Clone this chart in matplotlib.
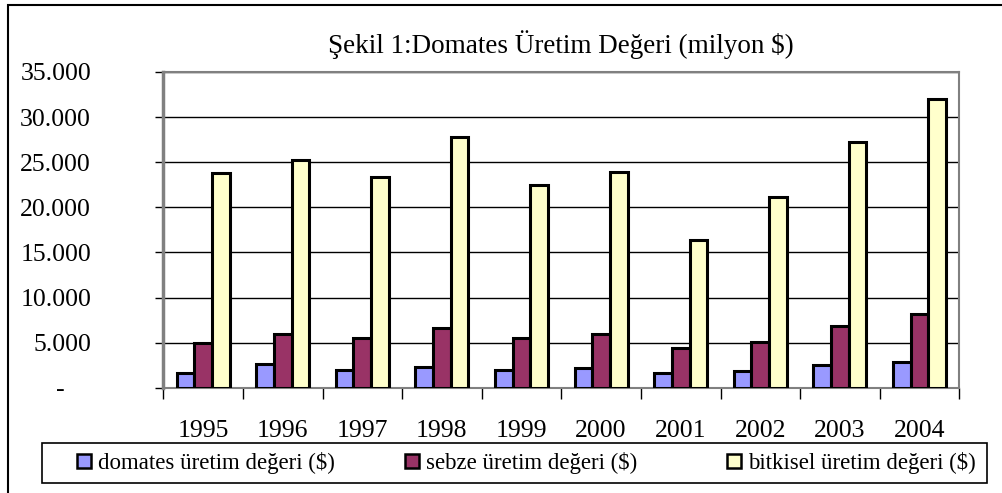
import matplotlib
matplotlib.use("Agg")
import matplotlib.pyplot as plt
import numpy as np
from matplotlib.patches import Rectangle
from matplotlib.lines import Line2D

years = ["1995", "1996", "1997", "1998", "1999", "2000", "2001", "2002", "2003", "2004"]
domates = [1660, 2620, 1960, 2330, 1960, 2150, 1590, 1850, 2480, 2850]
sebze = [5000, 5950, 5540, 6650, 5540, 5950, 4430, 5060, 6830, 8130]
bitkisel = [23810, 25290, 23370, 27800, 22480, 23890, 16320, 21120, 27240, 32000]
series_names = ["domates üretim değeri ($)", "sebze üretim değeri ($)", "bitkisel üretim değeri ($)"]
colors = ["#9999FF", "#993366", "#FFFFCC"]
yticks = [0, 5000, 10000, 15000, 20000, 25000, 30000, 35000]
ytick_labels = ["-    ", "5.000", "10.000", "15.000", "20.000", "25.000", "30.000", "35.000"]
title = "Şekil 1:Domates Üretim Değeri (milyon $)"

plt.rcParams['font.family'] = ['Liberation Serif', 'DejaVu Serif']

W, H = 1003, 493
fig = plt.figure(figsize=(W / 100, H / 100), dpi=100)
L, R, T, B = 163.3, 959.3, 72, 387.7
ax = fig.add_axes([L / W, 1 - B / H, (R - L) / W, (B - T) / H])

x = np.arange(len(years))
bw = 0.222
for i, (vals, c, name) in enumerate(zip([domates, sebze, bitkisel], colors, series_names)):
    ax.bar(x + (i - 1) * bw, vals, width=bw, color=c, edgecolor="black", linewidth=2.2,
           label=name, zorder=3)

ax.set_xlim(-0.5, len(years) - 0.5)
ax.set_ylim(0, 35000)
ax.set_yticks(yticks)
ax.set_yticklabels(ytick_labels, fontsize=18.5)
ax.yaxis.grid(True, color="black", linewidth=1.0, zorder=0)
ax.set_axisbelow(True)

ax.set_xticks(np.arange(len(years) + 1) - 0.5)
ax.set_xticklabels([])
ax.set_xticks(x, minor=True)
ax.set_xticklabels(years, minor=True, fontsize=18.5)
ax.tick_params(axis="x", which="major", direction="out", length=8, width=1, color="black")
ax.tick_params(axis="x", which="minor", length=0, pad=23)
ax.tick_params(axis="y", direction="out", length=6, width=1, color="black", pad=46)

for s in ["top", "right"]:
    ax.spines[s].set_color("#808080")
    ax.spines[s].set_linewidth(1.5)
ax.spines["left"].set_color("#808080")
ax.spines["left"].set_linewidth(2.5)
ax.spines["bottom"].set_color("#808080")
ax.spines["bottom"].set_linewidth(1.5)

fig.text((L + R) / 2 / W, 1 - 45 / H, title, ha="center", va="center", fontsize=19.5)

# legend: framed box with three entries placed as in the reference
fig.patches.append(Rectangle((42 / W, 1 - 483 / H), (987 - 42) / W, 40 / H,
                             transform=fig.transFigure, fill=False,
                             edgecolor="black", linewidth=1.2))
anchors_px = [74, 402, 723.5]
for c, name, ax_px in zip(colors, series_names, anchors_px):
    h = Line2D([], [], marker="s", linestyle="none", markersize=10.5, markerfacecolor=c,
               markeredgecolor="black", markeredgewidth=1.8)
    lg = fig.legend([h], [name], loc="center left",
                    bbox_to_anchor=(ax_px / W, 1 - 463 / H), fontsize=16.5,
                    frameon=False, borderpad=0, borderaxespad=0,
                    handlelength=0.9, handletextpad=0.15)

# outer border
fig.patches.append(Rectangle((8 / W, -0.1), 1.2, 1 - 5 / H + 0.1, transform=fig.transFigure,
                             fill=False, edgecolor="black", linewidth=1.5))

fig.savefig("out.png", dpi=100)
